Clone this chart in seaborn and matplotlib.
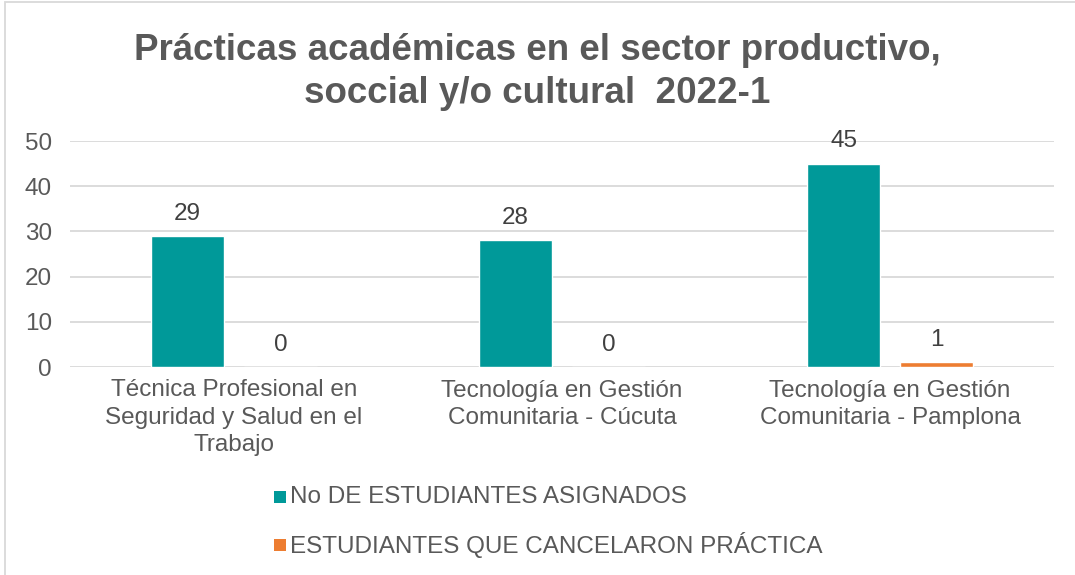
import matplotlib
matplotlib.use("Agg")
import matplotlib.pyplot as plt
import seaborn as sns
import pandas as pd
from matplotlib.patches import Rectangle

categories = [
    "Técnica Profesional en\nSeguridad y Salud en el\nTrabajo",
    "Tecnología en Gestión\nComunitaria - Cúcuta",
    "Tecnología en Gestión\nComunitaria - Pamplona",
]
series_names = ["No DE ESTUDIANTES ASIGNADOS", "ESTUDIANTES QUE CANCELARON PRÁCTICA"]
asignados = [29, 28, 45]
cancelaron = [0, 0, 1]
y_ticks = [0, 10, 20, 30, 40, 50]
title = "Prácticas académicas en el sector productivo,\nsoccial y/o cultural  2022-1"

colors = ["#009999", "#ED7D31"]

df = pd.DataFrame({
    "categoria": categories * 2,
    "serie": [series_names[0]] * 3 + [series_names[1]] * 3,
    "valor": asignados + cancelaron,
})

sns.set_theme(style="white")
plt.rcParams["font.family"] = ["Liberation Sans", "DejaVu Sans"]

fs = 17.5

fig = plt.figure(figsize=(10.75, 5.75), dpi=100)
ax = fig.add_axes([70 / 1075, 1 - 367 / 575, (1054 - 70) / 1075, (367 - 141) / 575])

sns.barplot(data=df, x="categoria", y="valor", hue="serie", palette=colors,
            width=0.567, gap=0.215, ax=ax, legend=False, saturation=1)

ax.set_xlim(-0.5, 2.5)
ax.set_ylim(0, 50)
ax.set_yticks(y_ticks)
ax.set_xlabel("")
ax.set_ylabel("")
ax.grid(axis="y", color="#D9D9D9", linewidth=1.3)
ax.set_axisbelow(True)
for s in ax.spines.values():
    s.set_visible(False)
ax.tick_params(axis="y", labelsize=fs, labelcolor="#595959", length=0, pad=13)
ax.tick_params(axis="x", labelsize=fs, labelcolor="#595959", length=0, pad=9)
for lbl in ax.get_xticklabels():
    lbl.set_linespacing(1.32)

for container in ax.containers:
    ax.bar_label(container, fmt="%d", padding=8, fontsize=fs, color="#404040")

fig.text(0.5, 1 - 72 / 575, title, ha="center", va="center", fontsize=26.5,
         fontweight="bold", color="#595959", linespacing=1.3)

# Legend entries stacked below the plot
leg_x = 274 / 1075
for i, (name, c) in enumerate(zip(series_names, colors)):
    y = 1 - (497 + 48 * i) / 575
    fig.patches.append(Rectangle((leg_x, y - 6 / 575), 12 / 1075, 12 / 575,
                                 transform=fig.transFigure, facecolor=c,
                                 edgecolor="none"))
    fig.text(leg_x + 16 / 1075, y, name, ha="left", va="center",
             fontsize=fs, color="#595959")

# Chart frame
fig.patches.append(Rectangle((5 / 1075, -0.05), 1.2, 1 - 2 / 575 + 0.05,
                             transform=fig.transFigure, facecolor="none",
                             edgecolor="#D9D9D9", linewidth=1.3))

fig.savefig("out.png", dpi=100, facecolor="white")
